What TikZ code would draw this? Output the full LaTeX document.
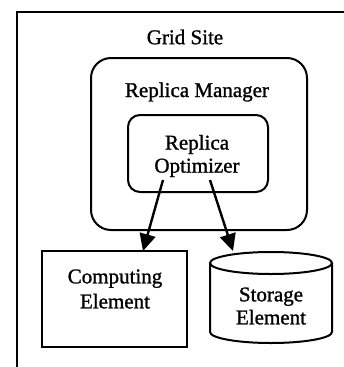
\documentclass[tikz,border=0pt]{standalone}
\usepackage{fontspec}
\setmainfont{Liberation Serif}[BoldFont={Liberation Serif},BoldFeatures={FakeBold=1.2}]
\usetikzlibrary{arrows.meta}
\begin{document}
\begin{tikzpicture}[x=1pt,y=-1pt,
  lbl/.style={font=\fontsize{21}{23}\selectfont\bfseries, align=center, inner sep=0pt},
  rbox/.style={draw, line width=2pt, rounded corners=#1, inner sep=0pt},
  conn/.style={line width=2.4pt, -{Triangle[length=17pt,width=16pt]}}]
\useasboundingbox (0,0) rectangle (344,367);
% frame (cropped site box)
\draw[line width=2pt] (17,367) -- (17,12) -- (344,12);
\node[lbl] (site) at (185,37) {Grid Site};
% replica manager
\node[rbox=20pt, minimum width=216pt, minimum height=172pt] (rm) at (199,144) {};
\node[lbl] (rmtext) at (197,92) {Replica Manager};
% replica optimizer
\node[rbox=12pt, minimum width=140pt, minimum height=77pt] (ro) at (198,153.5) {};
\node[lbl] (rotext) at (197,156) {Replica\\Optimizer};
% computing element
\node[draw, line width=2pt, minimum width=145pt, minimum height=96pt, inner sep=0pt] (ce) at (114.5,299) {};
\node[lbl, font=\fontsize{21}{25}\selectfont\bfseries] (cetext) at (115,289) {Computing\\Element};
% storage element (cylinder)
\draw[line width=2pt] (210,263) -- (210,332) arc[start angle=180, end angle=360, x radius=61, y radius=-11] -- (332,263);
\draw[line width=2pt] (271,263) ellipse[x radius=61, y radius=11];
\node[lbl] (setext) at (271,306) {Storage\\Element};
% arrows
\coordinate (a1) at (163,180);
\coordinate (a2) at (210,180);
\coordinate (t1) at (143,251);
\coordinate (t2) at (233,251);
\draw[conn] (a1) -- (t1);
\draw[conn] (a2) -- (t2);
\end{tikzpicture}
\end{document}
